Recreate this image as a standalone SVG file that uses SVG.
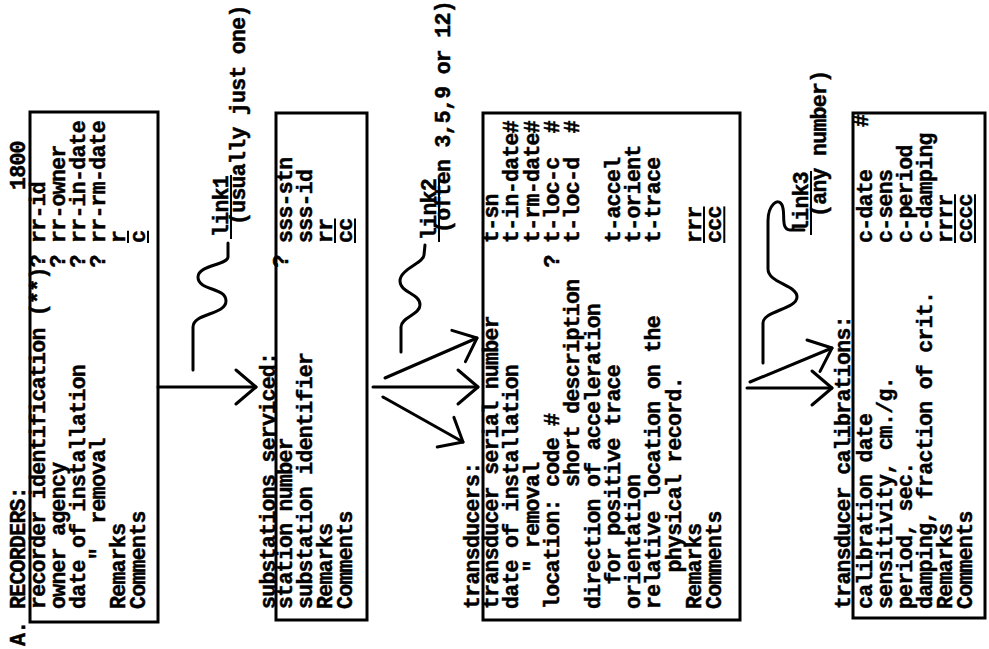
<svg xmlns="http://www.w3.org/2000/svg" width="989" height="649" viewBox="0 0 989 649">
<style>
text { font-family: "Liberation Mono", "DejaVu Sans Mono", monospace; font-size: 21.5px; letter-spacing: -0.7px; font-weight: bold; fill: #000; stroke: #000; stroke-width: 0.5; }
.box { fill: none; stroke: #000; stroke-width: 3; }
.ul { stroke: #000; stroke-width: 2; }
.conn { fill: none; stroke: #000; stroke-width: 3; stroke-linecap: round; stroke-linejoin: round; }
</style>
<defs>
<marker id="ah" markerUnits="userSpaceOnUse" markerWidth="40" markerHeight="40" refX="0" refY="0" viewBox="-30 -20 34 40" orient="auto" overflow="visible">
<path d="M -20,-17 L 0,0 L -20,17" fill="none" stroke="#000" stroke-width="3" stroke-linecap="round" stroke-linejoin="round"/>
</marker>
</defs>
<rect width="989" height="649" fill="#fff"/>
<g transform="translate(0,649) rotate(-90)">
<g id="recorders">
<rect class="box" x="27" y="30" width="510" height="128"/>
<text x="3" y="25">A.</text>
<text x="40" y="25">RECORDERS:</text>
<text x="459" y="25">1800</text>
<text x="40" y="45">recorder identification (**)? rr-id</text>
<text x="40" y="65">owner agency</text><text x="381.6" y="65">? rr-owner</text>
<text x="40" y="85">date of installation</text><text x="381.6" y="85">? rr-in-date</text>
<text x="88.8" y="105">"</text><text x="125.4" y="105">removal</text><text x="381.6" y="105">? rr-rm-date</text>
<text x="40" y="125">Remarks</text><text x="406" y="125">r</text><line class="ul" x1="406" y1="128" x2="418.2" y2="128"/>
<text x="40" y="145">Comments</text><text x="406" y="145">c</text><line class="ul" x1="406" y1="148" x2="418.2" y2="148"/>
</g>
<g id="substations">
<rect class="box" x="29" y="276" width="507" height="91"/>
<text x="40" y="275">substations serviced:</text>
<text x="40" y="292">station number</text><text x="381.6" y="288">?</text><text x="406" y="292">sss-stn</text>
<text x="40" y="312">substation identifier</text><text x="406" y="312">sss-id</text>
<text x="40" y="332">Remarks</text><text x="406" y="332">rr</text><line class="ul" x1="406" y1="335" x2="430.4" y2="335"/>
<text x="40" y="352">Comments</text><text x="406" y="352">cc</text><line class="ul" x1="406" y1="355" x2="430.4" y2="355"/>
</g>
<g id="transducers">
<rect class="box" x="29" y="483" width="507" height="257"/>
<text x="40" y="479">transducers:</text>
<text x="40" y="498">transducer serial number</text><text x="406" y="498">t-sn</text>
<text x="40" y="518.3">date of installation</text><text x="406" y="518.3">t-in-date#</text>
<text x="76.6" y="538.6">"</text><text x="101" y="538.6">removal</text><text x="406" y="538.6">t-rm-date#</text>
<text x="40" y="558.9">location: code #</text><text x="381.6" y="558.9">? t-loc-c</text><text x="515.8" y="558.9">#</text>
<text x="162" y="579.2">short description</text><text x="406" y="579.2">t-loc-d</text><text x="515.8" y="579.2">#</text>
<text x="40" y="599.5">direction of acceleration</text>
<text x="64.4" y="619.8">for positive trace</text><text x="406" y="619.8">t-accel</text>
<text x="40" y="640.1">orientation</text><text x="406" y="640.1">t-orient</text>
<text x="40" y="660.4">relative location on the</text><text x="406" y="660.4">t-trace</text>
<text x="76.6" y="680.7">physical record.</text>
<text x="40" y="701">Remarks</text><text x="406" y="701">rrr</text><line class="ul" x1="406" y1="704" x2="442.6" y2="704"/>
<text x="40" y="721.3">Comments</text><text x="406" y="721.3">ccc</text><line class="ul" x1="406" y1="724.3" x2="442.6" y2="724.3"/>
</g>
<g id="calibrations">
<rect class="box" x="31" y="853" width="505" height="132"/>
<text x="40" y="850">transducer calibrations:</text>
<text x="40" y="872">calibration date</text><text x="406" y="872">c-date</text><text x="522" y="868">#</text>
<text x="40" y="892">sensitivity, cm./g.</text><text x="406" y="892">c-sens</text>
<text x="40" y="912">period, sec.</text><text x="406" y="912">c-period</text>
<text x="40" y="932">damping, fraction of crit.</text><text x="406" y="932">c-damping</text>
<text x="40" y="952">Remarks</text><text x="406" y="952">rrrr</text><line class="ul" x1="406" y1="955" x2="454.8" y2="955"/>
<text x="40" y="972">Comments</text><text x="406" y="972">cccc</text><line class="ul" x1="406" y1="975" x2="454.8" y2="975"/>
</g>
<g id="connectors">
<line class="conn" x1="262" y1="158" x2="262" y2="256" marker-end="url(#ah)"/>
<line class="conn" x1="262" y1="373" x2="262" y2="478" marker-end="url(#ah)"/>
<line class="conn" x1="271" y1="385" x2="311" y2="477" marker-end="url(#ah)"/>
<line class="conn" x1="252" y1="383" x2="207" y2="463" marker-end="url(#ah)"/>
<line class="conn" x1="267" y1="750" x2="301" y2="832" marker-end="url(#ah)"/>
<line class="conn" x1="261" y1="747" x2="261" y2="832" marker-end="url(#ah)"/>
<path class="conn" d="M 279 193 L 322 193 C 336 193 334 226 348 226 C 362 226 358 198 372 198 C 384 198 384 228 392 228 L 406 228"/>
<path class="conn" d="M 297 401 L 322 401 C 332 401 334 420 344 420 C 356 420 356 400 368 400 C 380 400 386 424 394 424 L 404 425"/>
<path class="conn" d="M 286 763 L 326 763 C 338 763 340 797 352 797 C 364 797 366 768 380 768 L 428 768 C 444 768 452 778 444 782 C 436 786 420 780 419 790 L 419 804"/>
<text x="412" y="228">link1</text><line class="ul" x1="410" y1="231" x2="474" y2="231"/>
<text x="424" y="245">(usually just one)</text>
<text x="409" y="436">link2</text><line class="ul" x1="407" y1="439" x2="471" y2="439"/>
<text x="416" y="450">(often 3,5,9 or 12)</text>
<text x="416" y="808">link3</text><line class="ul" x1="414" y1="811" x2="478" y2="811"/>
<text x="432" y="826">(any number)</text>
</g>
</g>
</svg>
